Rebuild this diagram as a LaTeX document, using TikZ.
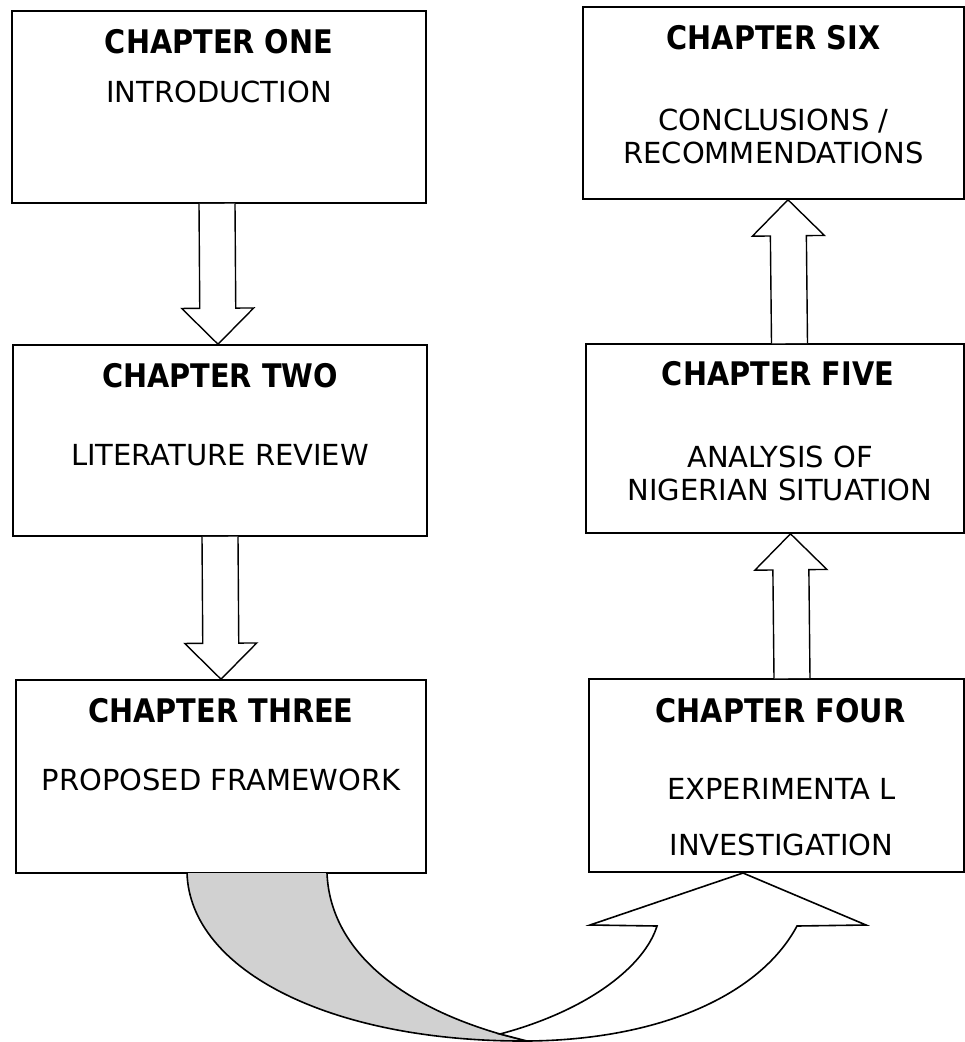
\documentclass[tikz,border=0pt]{standalone}
\usepackage{fontspec}
\setmainfont{DejaVu Sans}
\newfontfamily\chapfont{DejaVu Sans}[FakeStretch=0.885]
\usetikzlibrary{calc}

\tikzset{
    chapbox/.style={draw, line width=1.6pt, inner sep=0pt},
    chaphead/.style={font=\chapfont\bfseries\fontsize{32.5}{36}\selectfont, inner sep=0pt, text height=24pt, text depth=0pt},
    chaptext/.style={font=\fontsize{29}{33}\selectfont, inner sep=0pt, text height=21pt, text depth=0pt},
    blockarrow/.style={draw, fill=white, line width=1.4pt, line join=miter},
    ribbon/.style={draw, line width=1.6pt, line join=miter},
}

% hollow block arrow from one anchor to another, shifted sideways by #3
\newcommand{\chapterarrow}[3]{%
    \draw[blockarrow]
        let \p1=($(#1)+(#3,0)$), \p2=($(#2)+(#3,0)$), \p3=($(\p2)!36pt!(\p1)$) in
        ($(\p1)!18pt!90:(\p2)$) -- ($(\p3)!18pt!-90:(\p1)$) -- ($(\p3)!36pt!-90:(\p1)$) --
        (\p2) -- ($(\p3)!36pt!90:(\p1)$) -- ($(\p3)!18pt!90:(\p1)$) -- ($(\p1)!18pt!-90:(\p2)$);
}

\begin{document}
\begin{tikzpicture}[x=1pt, y=-1pt]
    \useasboundingbox (0,0) rectangle (965,1042);

    % left column
    \node[chapbox, minimum width=414pt, minimum height=192pt] (one) at (219,107) {};
    \node[chapbox, minimum width=414pt, minimum height=191pt] (two) at (220,440.5) {};
    \node[chapbox, minimum width=410pt, minimum height=193pt] (three) at (221,776.5) {};
    % right column
    \node[chapbox, minimum width=381pt, minimum height=192pt] (six) at (773.5,103) {};
    \node[chapbox, minimum width=378pt, minimum height=189pt] (five) at (775,438.5) {};
    \node[chapbox, minimum width=375pt, minimum height=193pt] (four) at (776.5,775.5) {};

    \node[chaphead] (one-head) at ([yshift=-31pt]one.north) {CHAPTER ONE};
    \node[chaptext] (one-text) at ([yshift=-82pt]one.north) {INTRODUCTION};
    \node[chaphead] (two-head) at ([yshift=-31pt]two.north) {CHAPTER TWO};
    \node[chaptext] (two-text) at ([yshift=-111pt]two.north) {LITERATURE REVIEW};
    \node[chaphead] (three-head) at ([yshift=-31pt]three.north) {CHAPTER THREE};
    \node[chaptext] (three-text) at ([yshift=-101pt]three.north) {PROPOSED FRAMEWORK};

    \node[chaphead] (four-head) at ([xshift=4pt, yshift=-32pt]four.north) {CHAPTER FOUR};
    \node[chaptext] (four-text1) at ([xshift=5pt, yshift=-111pt]four.north) {EXPERIMENTA L};
    \node[chaptext] (four-text2) at ([xshift=5pt, yshift=-167pt]four.north) {INVESTIGATION};
    \node[chaphead] (five-head) at ([xshift=3pt, yshift=-30pt]five.north) {CHAPTER FIVE};
    \node[chaptext] (five-text1) at ([xshift=5pt, yshift=-114pt]five.north) {ANALYSIS OF};
    \node[chaptext] (five-text2) at ([xshift=5pt, yshift=-147pt]five.north) {NIGERIAN SITUATION};
    \node[chaphead] (six-head) at ([yshift=-31pt]six.north) {CHAPTER SIX};
    \node[chaptext] (six-text1) at ([yshift=-114pt]six.north) {CONCLUSIONS /};
    \node[chaptext] (six-text2) at ([yshift=-147pt]six.north) {RECOMMENDATIONS};

    \chapterarrow{one.south}{two.north}{-2}
    \chapterarrow{two.south}{three.north}{0}
    \chapterarrow{four.north}{five.south}{15.5}
    \chapterarrow{five.north}{six.south}{14.5}

    % curved arrow, chapter three to chapter four
    \draw[ribbon, fill=black!18]
        (187,873) .. controls (190,970) and (330,1042) .. (527,1041) --
        (500,1034) .. controls (400,1005) and (330,950) .. (327,873);
    \draw[ribbon, fill=white]
        (500,1034) .. controls (590,1010) and (645,965) .. (657,926) --
        (590,925) -- (743,873) -- (866,925) -- (797,926)
        .. controls (760,995) and (660,1040) .. (527,1041) -- cycle;
\end{tikzpicture}
\end{document}
